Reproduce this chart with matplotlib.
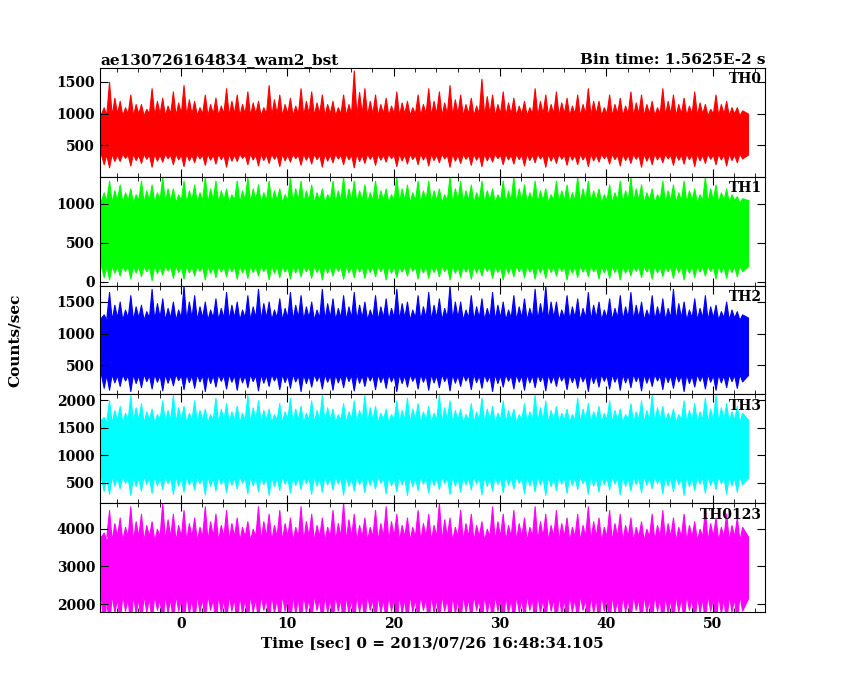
import matplotlib
matplotlib.use("Agg")
import matplotlib.pyplot as plt
import numpy as np

# 1-second bin envelopes (bin start times)
t = list(range(-8, 53)) + [53]
th0_hi = [1100,1500,1200,1300,1150,1400,1250,1350,1450,1200,1300,1250,1400,1300,1350,1200,1450,1300,1250,1400,1350,1300,1200,1300,1680,1400,1300,1250,1350,1200,1300,1400,1350,1450,1300,1250,1550,1300,1350,1250,1200,1400,1300,1350,1250,1300,1400,1200,1300,1250,1350,1300,1200,1400,1300,1250,1350,1150,1300,1200,1100,1050]
th0_lo = [200,150,250,180,220,160,240,200,170,230,190,210,160,250,200,180,220,170,240,190,210,160,230,200,150,220,190,240,170,210,200,180,230,160,220,190,170,240,200,210,180,230,160,220,190,200,170,240,210,180,220,160,200,230,190,210,170,220,200,180,230,210]
th1_hi = [1150,1300,1250,1200,1300,1250,1350,1200,1300,1250,1350,1300,1200,1300,1350,1250,1300,1200,1350,1300,1250,1200,1300,1350,1300,1250,1300,1200,1350,1250,1300,1300,1200,1350,1300,1250,1300,1200,1300,1350,1250,1300,1200,1300,1250,1350,1300,1200,1250,1300,1350,1250,1200,1300,1250,1300,1200,1350,1250,1200,1100,1050]
th1_lo = [60,30,80,40,70,20,90,50,40,80,30,60,70,40,50,80,30,60,40,70,50,30,80,40,60,50,70,30,60,80,40,50,70,30,60,40,80,50,30,70,60,40,50,80,30,60,70,40,50,30,80,60,40,70,50,30,60,80,40,50,70,60]
th2_hi = [1300,1650,1500,1600,1450,1700,1550,1500,1750,1600,1500,1550,1650,1500,1600,1700,1500,1550,1650,1600,1500,1700,1550,1600,1650,1500,1600,1550,1700,1500,1600,1650,1550,1750,1500,1600,1550,1650,1500,1600,1550,1700,1750,1500,1600,1550,1650,1500,1550,1600,1650,1500,1600,1550,1700,1500,1550,1600,1450,1500,1350,1300]
th2_lo = [150,120,180,100,160,140,110,190,130,150,100,170,140,120,160,110,180,130,150,100,170,140,120,160,110,180,130,150,100,170,140,120,160,110,180,130,150,100,170,140,120,160,110,180,130,150,100,170,140,120,160,110,180,130,150,100,170,140,120,160,150,140]
th3_hi = [1700,2000,1900,2100,1950,1850,2000,2100,1900,2000,1850,2050,1950,1900,2100,2000,1850,1950,2050,1900,2000,2100,1850,1950,2000,2100,1900,1850,2000,2050,1950,1900,2100,2000,1850,1950,2050,1900,2000,1850,1950,2100,2000,1900,1850,2050,1950,1900,2000,1850,1950,2000,2100,1900,1850,2000,1950,2050,2100,1950,1900,1850]
th3_lo = [350,300,400,280,360,320,390,300,340,380,290,360,330,400,310,350,280,370,320,390,300,340,380,290,360,330,400,310,350,280,370,320,390,300,340,380,290,360,330,400,310,350,280,370,320,390,300,340,380,290,360,330,400,310,350,280,370,320,390,300,340,350]
thall_hi = [3900,4500,4300,4600,4400,4200,4700,4400,4500,4300,4600,4400,4500,4300,4200,4600,4400,4500,4300,4600,4400,4300,4500,4700,4400,4300,4500,4600,4400,4300,4500,4400,4700,4300,4500,4400,4200,4600,4400,4500,4300,4600,4400,4500,4300,4400,4600,4300,4500,4400,4300,4200,4400,4500,4300,4400,4200,4500,4300,4400,4300,4100]
thall_lo = [1100,1400,1500,1350,1450,1550,1400,1500,1350,1450,1550,1400,1500,1350,1450,1550,1400,1500,1350,1450,1550,1400,1500,1350,1450,1550,1400,1500,1350,1450,1550,1400,1500,1350,1450,1550,1400,1500,1350,1450,1550,1400,1500,1350,1450,1550,1400,1500,1350,1450,1550,1400,1500,1350,1450,1550,1400,1500,1350,1450,1500,1400]
# typical top/bottom of the dense band between spikes
core_top = [1000, 1050, 1250, 1650, 3800]
core_bot = [350, 200, 350, 600, 2150]

labels = ["TH0", "TH1", "TH2", "TH3", "TH0123"]
colors = ["#ff0000", "#00ff00", "#0000ff", "#00ffff", "#ff00ff"]
highs = [th0_hi, th1_hi, th2_hi, th3_hi, thall_hi]
lows = [th0_lo, th1_lo, th2_lo, th3_lo, thall_lo]
ylims = [(0, 1720), (-50, 1350), (47, 1750), (130, 2110), (1790, 4680)]
yticks = [[500, 1000, 1500], [0, 500, 1000], [500, 1000, 1500], [500, 1000, 1500, 2000], [2000, 3000, 4000]]

plt.rcParams['font.family'] = ['DejaVu Serif']
plt.rcParams['font.weight'] = 'bold'
fig = plt.figure(figsize=(8.5, 6.8), dpi=100)
left, right, top, bottom = 100/850, 765/850, 1-68/680, 1-612/680
h = (top - bottom) / 5
for i in range(5):
    ax = fig.add_axes([left, top - (i+1)*h, right-left, h])
    tt = np.array(t, dtype=float)
    tt[0] = -7.5; tt[-1] = 53.3
    xs, his, los = [], [], []
    for k in range(len(tt)):
        xs += [tt[k], tt[k] + 0.25, tt[k] + 0.5, tt[k] + 0.75]
        his += [core_top[i], highs[i][k], core_top[i] * 0.97, (highs[i][k] + core_top[i]) / 2]
        los += [core_bot[i], lows[i][k], core_bot[i] * 1.05, (lows[i][k] + core_bot[i]) / 2]
    xs = np.array(xs); m = xs <= 53.3
    ax.fill_between(xs[m], np.array(los)[m], np.array(his)[m], color=colors[i], lw=0.8, edgecolor=colors[i])
    ax.set_xlim(-7.6, 54.9)
    ax.set_ylim(*ylims[i])
    ax.set_yticks(yticks[i])
    ax.set_xticks([0, 10, 20, 30, 40, 50])
    ax.set_xticks(np.arange(-6, 55, 2), minor=True)
    ax.tick_params(direction='in', which='both', top=True, right=True, labelsize=10)
    ax.tick_params(which='major', length=6)
    ax.tick_params(which='minor', length=3)
    if i < 4:
        ax.set_xticklabels([])
    ax.text(0.995, 0.96, labels[i], transform=ax.transAxes, ha='right', va='top', fontsize=10)
    if i == 0:
        ax.set_title("ae130726164834_wam2_bst", loc='left', fontsize=11, pad=3, fontweight='bold')
        ax.set_title("Bin time: 1.5625E-2 s", loc='right', fontsize=11, pad=3, fontweight='bold')
    if i == 4:
        ax.set_xlabel("Time [sec] 0 = 2013/07/26 16:48:34.105", fontsize=11, fontweight='bold')
fig.text(0.017, (top+bottom)/2, "Counts/sec", rotation=90, va='center', ha='center', fontsize=11)
fig.savefig("out.png", dpi=100)
